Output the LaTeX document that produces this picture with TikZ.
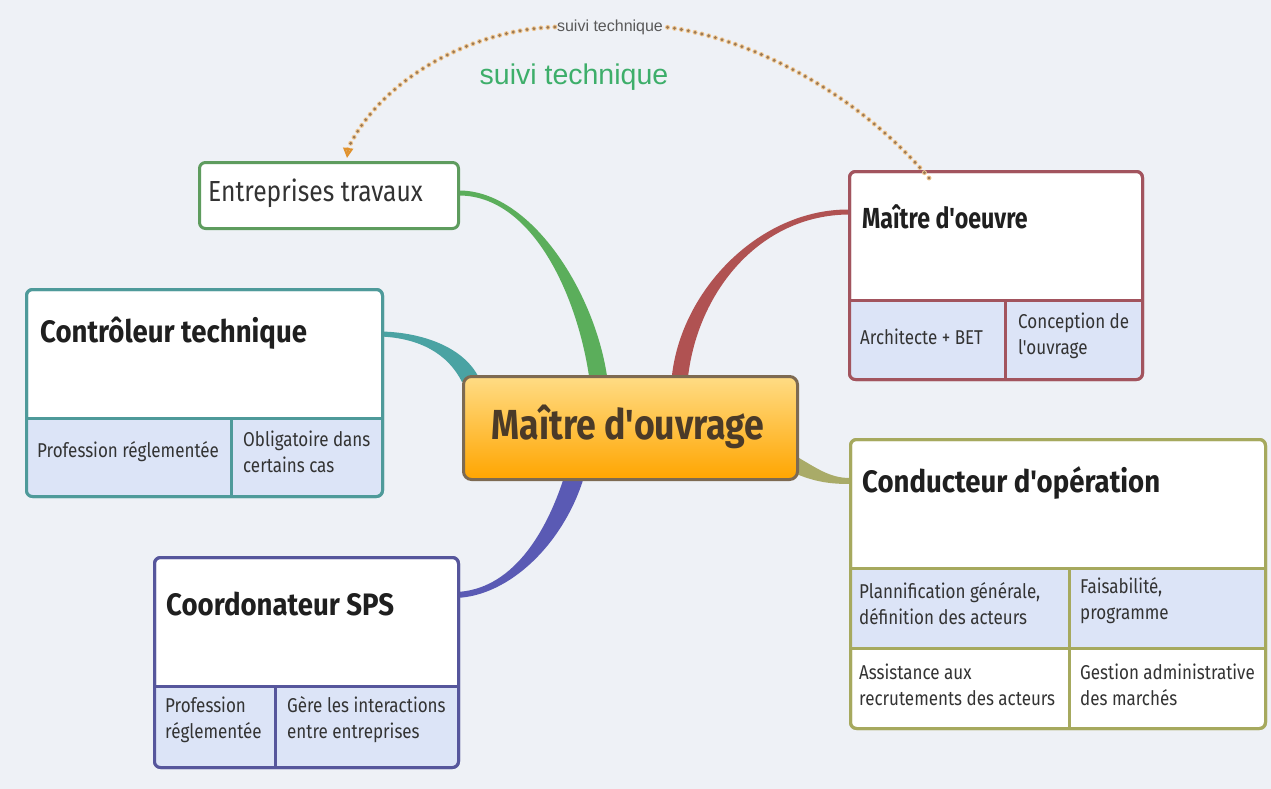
\documentclass[tikz,border=0pt]{standalone}
\usepackage{fontspec}
\setmainfont{Fira Sans}
\newfontfamily\titlefont[FakeStretch=0.89]{Fira Sans}
\newfontfamily\moefont[FakeStretch=0.80]{Fira Sans}
\newfontfamily\plainfont[FakeStretch=0.85]{Fira Sans}
\newfontfamily\centrefont[FakeStretch=0.85]{Fira Sans}
\newfontfamily\cellfont[FakeStretch=0.85]{Fira Sans}
\newfontfamily\arialfont{Liberation Sans}
\usetikzlibrary{arrows.meta,calc}
\definecolor{bg}{HTML}{EEF1F6}
\definecolor{cellblue}{HTML}{DCE4F7}
\definecolor{cgreen}{HTML}{5E9C5E}
\definecolor{lgreen}{HTML}{5BAE5B}
\definecolor{cteal}{HTML}{4E9A9A}
\definecolor{lteal}{HTML}{4AA3A3}
\definecolor{cmaroon}{HTML}{A2545E}
\definecolor{lmaroon}{HTML}{B05252}
\definecolor{colive}{HTML}{A6A95E}
\definecolor{lolive}{HTML}{A9AB68}
\definecolor{cpurple}{HTML}{56569C}
\definecolor{lpurple}{HTML}{5A5AB4}
\definecolor{cborder}{HTML}{7D6A52}
\definecolor{ctop}{HTML}{FFDC85}
\definecolor{cbot}{HTML}{FFA500}
\definecolor{dotcol}{HTML}{9C7A55}
\definecolor{dothalo}{HTML}{F2C994}
\definecolor{arrcol}{HTML}{E0922E}
\definecolor{gtext}{HTML}{3DAE6A}
\definecolor{ctext}{HTML}{4A3A28}
\tikzset{
  boxshape/.style={draw=#1, fill=white, line width=3pt, rounded corners=6pt, inner sep=0pt, anchor=north west},
  titletext/.style={anchor=west, inner sep=0pt, text=black!88, font=\titlefont\bfseries\fontsize{31}{36}\selectfont},
  plaintext/.style={anchor=west, inner sep=0pt, text=black!80, font=\plainfont\fontsize{29}{34}\selectfont},
  celltext/.style={anchor=west, inner sep=0pt, align=left, text=black!80, font=\cellfont\fontsize{20}{26}\selectfont},
  divider/.style={draw=#1, line width=3pt},
  dothaloline/.style={draw=dothalo, line width=5pt, line cap=round, dash pattern=on 0pt off 7pt},
  dotline/.style={draw=dotcol, line width=3.3pt, line cap=round, dash pattern=on 0pt off 7pt}
}
\begin{document}
\begin{tikzpicture}[x=1pt,y=-1pt]
\useasboundingbox (0,0) rectangle (1271,789);
\fill[bg] (0,0) rectangle (1271,789);

% ---- connectors (tapered) ----
\fill[lgreen] (607,376) .. controls (594,290) and (530,190.5) .. (459,190.5) -- (459,195.5) .. controls (530,195.5) and (576,290) .. (589,376) -- cycle;
\fill[lteal] (478,376) .. controls (462,346) and (420,332) .. (380,331.5) -- (380,336.5) .. controls (420,338) and (448,354) .. (462,382) -- cycle;
\fill[lmaroon] (688,377) .. controls (698,291) and (760,215) .. (849,214.5) -- (849,209.5) .. controls (760,209) and (682,289) .. (672,375) -- cycle;
\fill[lolive] (786,469) .. controls (811,482) and (830,484) .. (850,484) -- (850,478) .. controls (830,478) and (818,469) .. (794,455) -- cycle;
\fill[lpurple] (566,471) .. controls (546,537) and (510,590) .. (456,592) -- (456,598) .. controls (510,596) and (564,543) .. (584,477) -- cycle;

% ---- Entreprises travaux ----
\node[boxshape=cgreen, minimum width=259pt, minimum height=66pt] (et) at (198,161) {};
\node[plaintext] (ett) at (208,193) {Entreprises travaux};

% ---- Maitre d'oeuvre ----
\node[boxshape=cmaroon, minimum width=293pt, minimum height=208pt] (moe) at (848,170) {};
\fill[cellblue] (848,300) -- (1141,300) {[rounded corners=6pt] -- (1141,378) -- (848,378)} -- cycle;
\node[boxshape=cmaroon, fill=none, minimum width=293pt, minimum height=208pt] at (848,170) {};
\draw[divider=cmaroon] (848,300) -- (1141,300);
\draw[divider=cmaroon] (1005,300) -- (1005,378);
\node[titletext, font=\moefont\bfseries\fontsize{29}{34}\selectfont] (moet) at (862,217) {Maître d'oeuvre};
\node[celltext] (moe1) at (860,337) {Architecte + BET};
\node[celltext] (moe2) at (1018,336) {Conception de\\l'ouvrage};

% ---- Controleur technique ----
\node[boxshape=cteal, minimum width=356pt, minimum height=207pt] (ct) at (25,288) {};
\fill[cellblue] (25,418) -- (381,418) {[rounded corners=6pt] -- (381,495) -- (25,495)} -- cycle;
\node[boxshape=cteal, fill=none, minimum width=356pt, minimum height=207pt] at (25,288) {};
\draw[divider=cteal] (25,418) -- (381,418);
\draw[divider=cteal] (231,418) -- (231,495);
\node[titletext] (ctt) at (40,333) {Contrôleur technique};
\node[celltext] (ct1) at (37,452) {Profession réglementée};
\node[celltext] (ct2) at (243,452) {Obligatoire dans\\certains cas};

% ---- Coordonateur SPS ----
\node[boxshape=cpurple, minimum width=304pt, minimum height=210pt] (sps) at (153,556) {};
\fill[cellblue] (153,686) -- (457,686) {[rounded corners=6pt] -- (457,766) -- (153,766)} -- cycle;
\node[boxshape=cpurple, fill=none, minimum width=304pt, minimum height=210pt] at (153,556) {};
\draw[divider=cpurple] (153,686) -- (457,686);
\draw[divider=cpurple] (275,686) -- (275,766);
\node[titletext] (spst) at (166,604) {Coordonateur SPS};
\node[celltext] (sps1) at (165,720) {Profession\\réglementée};
\node[celltext] (sps2) at (287,720) {Gère les interactions\\entre entreprises};

% ---- Conducteur d'operation ----
\node[boxshape=colive, minimum width=415pt, minimum height=289pt] (co) at (849,438) {};
\fill[cellblue] (849,568) rectangle (1264,648);
\node[boxshape=colive, fill=none, minimum width=415pt, minimum height=289pt] at (849,438) {};
\draw[divider=colive] (849,568) -- (1264,568);
\draw[divider=colive] (849,648) -- (1264,648);
\draw[divider=colive] (1069,568) -- (1069,727);
\node[titletext] (cot) at (862,483) {Conducteur d'opération};
\node[celltext] (co1) at (859,604) {Plannification générale,\\définition des acteurs};
\node[celltext] (co2) at (1080,601) {Faisabilité,\\programme};
\node[celltext] (co3) at (859,685) {Assistance aux\\recrutements des acteurs};
\node[celltext] (co4) at (1080,685) {Gestion administrative\\des marchés};

% ---- Maitre d'ouvrage (centre) ----
\node[draw=cborder, line width=3pt, rounded corners=8pt, top color=ctop, bottom color=cbot, minimum width=334pt, minimum height=103pt, anchor=north west, inner sep=0pt] (mo) at (462,375) {};
\node[inner sep=0pt, text=ctext, font=\centrefont\bfseries\fontsize{42}{46}\selectfont] (mot) at (628,427) {Maître d'ouvrage};

% ---- suivi technique (dotted) ----
\node[inner sep=2pt, text=black!65, font=\arialfont\fontsize{16}{18}\selectfont] (lbl) at (610,27) {suivi technique};
\coordinate (s1) at (929,178);
\coordinate (s2) at (347,158);
\draw[dothaloline] (s1) .. controls (850,85) and (740,36) .. (lbl.east);
\draw[dothaloline] (lbl.west) .. controls (470,30) and (380,80) .. ($(s2)+(0.3,-8)$);
\draw[dotline] (s1) .. controls (850,85) and (740,36) .. (lbl.east);
\draw[dotline] (lbl.west) .. controls (470,30) and (380,80) .. ($(s2)+(0.3,-8)$);
\draw[draw=arrcol, line width=2pt, -{Triangle[open,length=10pt,width=10pt]}] ($(s2)+(0.6,-5)$) -- (s2);
\node[inner sep=0pt, text=gtext, font=\arialfont\fontsize{28.5}{32}\selectfont] (gl) at (574,77) {suivi technique};
\end{tikzpicture}
\end{document}
